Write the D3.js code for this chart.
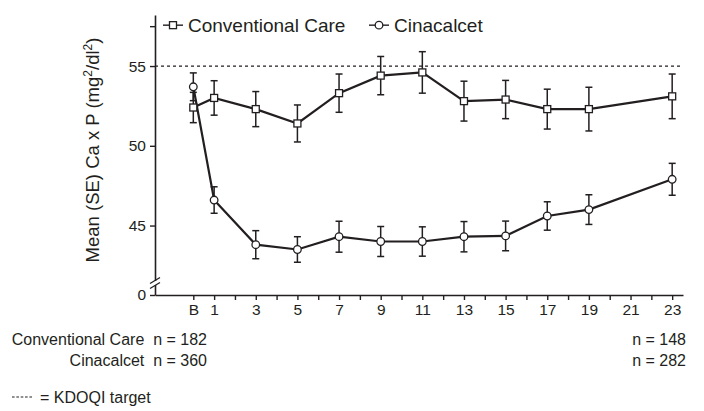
<!DOCTYPE html>
<html>
<head>
<meta charset="utf-8">
<script src="https://cdn.jsdelivr.net/npm/d3@7"></script>
<style>
  body { margin: 0; background: #fff; }
  svg text { font-family: "Liberation Sans", Arial, sans-serif; fill: #231f20; }
</style>
</head>
<body>
<div id="chart"></div>
<script>
// months on study (0 = baseline "B")
const months = [0, 1, 3, 5, 7, 9, 11, 13, 15, 17, 19, 23];
const conventional = [52.4, 53.0, 52.3, 51.4, 53.3, 54.4, 54.6, 52.8, 52.9, 52.3, 52.3, 53.1];
const conventionalSE = [0.95, 1.08, 1.1, 1.16, 1.2, 1.2, 1.3, 1.25, 1.2, 1.25, 1.37, 1.4];
const cinacalcet = [53.7, 46.6, 43.8, 43.5, 44.3, 44.0, 44.0, 44.3, 44.35, 45.6, 46.0, 47.9];
const cinacalcetSE = [0.87, 0.83, 0.88, 0.8, 0.97, 0.94, 0.92, 0.95, 0.93, 0.89, 0.93, 1.0];
const yTicks = [0, 45, 50, 55, 57.5];
const xTicks = d3.range(0, 24);
const kdoqiTarget = 55;
const seriesNames = ["Conventional Care", "Cinacalcet"];
const nStart = ["n = 182", "n = 360"];
const nEnd = ["n = 148", "n = 282"];

const margin = { top: 15, left: 155 };
const width = 528, height = 280;
const ink = "#231f20";

const svg = d3.select("#chart").append("svg")
    .attr("width", 704)
    .attr("height", 411);

const g = svg.append("g")
    .attr("transform", `translate(${margin.left},${margin.top})`);

const x = d3.scaleLinear()
    .domain([-1.84, 23.52])
    .range([0, width]);

// broken axis: 0 at the bottom, then a break, then 41.9 and up
const y = d3.scaleLinear()
    .domain([0, 41.9, 58.2])
    .range([height, 260, 0]);

// x axis
const xAxis = g.append("g")
    .attr("transform", `translate(0,${height})`)
    .call(d3.axisBottom(x)
        .tickValues(xTicks)
        .tickSizeInner(5)
        .tickSizeOuter(0)
        .tickPadding(4)
        .tickFormat(d => d === 0 ? "B" : (d % 2 === 1 ? d : "")));

// y axis
const yAxis = g.append("g")
    .call(d3.axisLeft(y)
        .tickValues(yTicks)
        .tickSizeInner(5)
        .tickSizeOuter(0)
        .tickPadding(4)
        .tickFormat(d => d === 57.5 ? "" : d));

[xAxis, yAxis].forEach(a => {
    a.select(".domain").attr("stroke", ink).attr("stroke-width", 1.6);
    a.selectAll(".tick line").attr("stroke", ink).attr("stroke-width", 1.4);
    a.selectAll(".tick text").attr("font-size", 15.5).attr("fill", ink);
});

// axis break marks
const yb = (y(41.9) + y(0)) / 2 - 2;
g.append("rect")
    .attr("x", -3).attr("y", yb - 2)
    .attr("width", 6).attr("height", 4)
    .attr("fill", "#fff");
[-2.5, 2.5].forEach(off => {
    g.append("line")
        .attr("x1", -5).attr("y1", yb + off + 3)
        .attr("x2", 5).attr("y2", yb + off - 3)
        .attr("stroke", ink).attr("stroke-width", 1.3);
});

// KDOQI target line
g.append("line")
    .attr("x1", 0).attr("x2", width)
    .attr("y1", y(kdoqiTarget)).attr("y2", y(kdoqiTarget))
    .attr("stroke", ink)
    .attr("stroke-width", 1.2)
    .attr("stroke-dasharray", "3,3");

const series = [
    { name: seriesNames[0], values: conventional, se: conventionalSE, shape: "square" },
    { name: seriesNames[1], values: cinacalcet, se: cinacalcetSE, shape: "circle" }
];

const line = d3.line()
    .x(d => x(d.m))
    .y(d => y(d.v));

series.forEach(s => {
    const pts = months.map((m, i) => ({ m: m, v: s.values[i], se: s.se[i] }));

    // error bars
    const eb = g.append("g");
    pts.forEach(d => {
        eb.append("line")
            .attr("x1", x(d.m)).attr("x2", x(d.m))
            .attr("y1", y(d.v + d.se)).attr("y2", y(d.v - d.se))
            .attr("stroke", ink).attr("stroke-width", 1.5);
        [d.v + d.se, d.v - d.se].forEach(e => {
            eb.append("line")
                .attr("x1", x(d.m) - 3.5).attr("x2", x(d.m) + 3.5)
                .attr("y1", y(e)).attr("y2", y(e))
                .attr("stroke", ink).attr("stroke-width", 1.5);
        });
    });

    g.append("path")
        .datum(pts)
        .attr("fill", "none")
        .attr("stroke", ink)
        .attr("stroke-width", 2.2)
        .attr("d", line);

    s.pts = pts;
});

function marker(sel, shape, cx, cy) {
    if (shape === "square") {
        sel.append("rect")
            .attr("x", cx - 3.5).attr("y", cy - 3.5)
            .attr("width", 7).attr("height", 7)
            .attr("fill", "#fff").attr("stroke", ink).attr("stroke-width", 1.3);
    } else {
        sel.append("circle")
            .attr("cx", cx).attr("cy", cy).attr("r", 3.8)
            .attr("fill", "#fff").attr("stroke", ink).attr("stroke-width", 1.3);
    }
}

series.forEach(s => {
    const mk = g.append("g");
    s.pts.forEach(d => marker(mk, s.shape, x(d.m), y(d.v)));
});

// legend
const legendX = [8, 214];
series.forEach((s, i) => {
    const lg = g.append("g").attr("transform", `translate(${legendX[i]},${y(57.5) - 1})`);
    lg.append("line")
        .attr("x1", 0).attr("x2", 20)
        .attr("stroke", ink).attr("stroke-width", 1.4);
    marker(lg, s.shape, 10, 0);
    lg.append("text")
        .attr("x", 25).attr("dy", "0.35em")
        .attr("font-size", 19)
        .text(s.name);
});

// y axis title
const yTitle = svg.append("text")
    .attr("transform", `translate(99,${margin.top + 135}) rotate(-90)`)
    .attr("text-anchor", "middle")
    .attr("font-size", 18.5);
yTitle.append("tspan").text("Mean (SE) Ca x P (mg");
yTitle.append("tspan").attr("baseline-shift", "super").attr("font-size", 12).text("2");
yTitle.append("tspan").text("/dl");
yTitle.append("tspan").attr("baseline-shift", "super").attr("font-size", 12).text("2");
yTitle.append("tspan").text(")");

// sample sizes
const nRows = [345, 366];
seriesNames.forEach((name, i) => {
    svg.append("text")
        .attr("x", 207).attr("y", nRows[i])
        .attr("text-anchor", "end")
        .attr("font-size", 16)
        .text(name + "\u00a0\u00a0" + nStart[i]);
    svg.append("text")
        .attr("x", 686).attr("y", nRows[i])
        .attr("text-anchor", "end")
        .attr("font-size", 16)
        .text(nEnd[i]);
});

// footnote
svg.append("line")
    .attr("x1", 12).attr("x2", 32)
    .attr("y1", 397).attr("y2", 397)
    .attr("stroke", ink).attr("stroke-width", 1.2)
    .attr("stroke-dasharray", "2.6,1.75");
svg.append("text")
    .attr("x", 40).attr("y", 403)
    .attr("font-size", 16)
    .text("= KDOQI target");
</script>
</body>
</html>
